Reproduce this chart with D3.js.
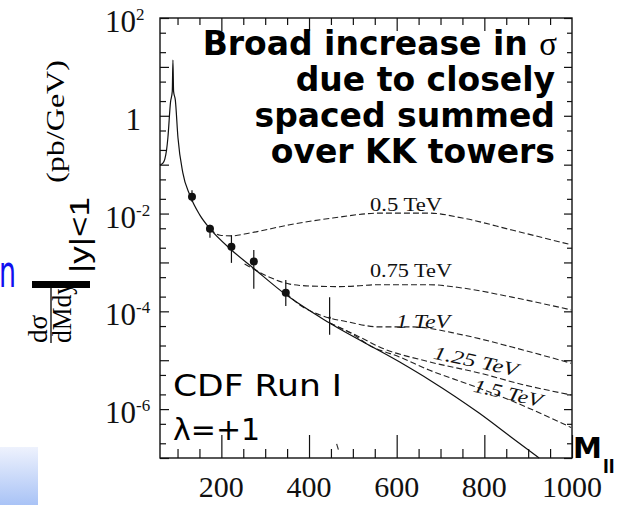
<!DOCTYPE html>
<html><head><meta charset="utf-8">
<script src="https://cdn.jsdelivr.net/npm/d3@7"></script>
<style>html,body{margin:0;padding:0;background:#fff;overflow:hidden}svg{display:block}</style>
</head><body><svg id="c" width="626" height="505"></svg>
<script>
// ---- data ----
const smMass  = [60, 66, 71, 75, 78, 84, 88, 89.5, 91, 95, 101, 112, 128, 151, 174, 223, 272, 347, 447, 606, 674, 788, 863, 925];
const smXsec  = [0.098, 0.106, 0.13, 0.2, 0.355, 1.9, 3.16, 13.8, 3.16, 2.09, 0.355, 0.069, 0.024, 0.0093, 0.0049, 0.0018, 7.8e-4, 2.2e-4, 5.75e-5, 9.3e-6, 4.0e-6, 8.3e-7, 2.6e-7, 1.0e-7];

const kk050Mass = [174, 197, 224, 265, 356, 454, 561, 674, 750, 863, 998];
const kk050Xsec = [0.0049, 0.0036, 0.0035, 0.0040, 0.0059, 0.0081, 0.0102, 0.0102, 0.0081, 0.0046, 0.0023];
const kk075Mass = [253, 310, 356, 401, 470, 561, 674, 750, 863, 998];
const kk075Xsec = [9.3e-4, 5.0e-4, 3.6e-4, 3.3e-4, 3.2e-4, 3.5e-4, 3.5e-4, 3.0e-4, 1.95e-4, 1.07e-4];
const kk100Mass = [347, 379, 424, 492, 561, 636, 750, 863, 998];
const kk100Xsec = [2.4e-4, 1.35e-4, 8.5e-5, 6.0e-5, 4.8e-5, 4.8e-5, 3.3e-5, 1.86e-5, 8.7e-6];
const kk125Mass = [447, 515, 561, 674, 788, 886, 998];
const kk125Xsec = [5.75e-5, 3.0e-5, 1.86e-5, 9.3e-6, 5.5e-6, 3.2e-6, 1.95e-6];
const kk150Mass = [447, 500, 538, 606, 674, 765, 857, 936, 998];
const kk150Xsec = [5.75e-5, 3.4e-5, 2.0e-5, 1.17e-5, 6.3e-6, 3.2e-6, 1.55e-6, 7.6e-7, 4.2e-7];

const curveLabels = ["0.5 TeV", "0.75 TeV", "1 TeV", "1.25 TeV", "1.5 TeV"];

const dataMass = [133, 174, 223, 274, 347, 447];
const dataXsec = [0.022, 0.0049, 0.0021, 0.00105, 2.4e-4, 7.4e-5];
const dataLow  = [0.0174, 0.0032, 9.8e-4, 2.9e-4, 1.29e-4, 3.3e-5];
const dataHigh = [0.030, 0.0059, 0.0036, 0.0018, 4.4e-4, 1.95e-4];
const fragMass = [463, 467];
const fragXsec = [1.95e-7, 1.48e-7];

const xMajorTicks = [200, 400, 600, 800, 1000];
const xMinorTicks = [100, 150, 250, 300, 350, 450, 500, 550, 650, 700, 750, 850, 900, 950];
const yExponents  = [2, 0, -2, -4, -6];
const noteLines   = ["Broad increase in ", "due to closely", "spaced summed", "over KK towers"];

// ---- drawing ----
const svg = d3.select("#c");
const L = 160, R = 572, T = 18, B = 458;
const x = d3.scaleLinear().domain([60, 1000]).range([L, R]);
const y = d3.scaleLog().domain([1e-7, 1e2]).range([B, T]);

// slide decorations
const defs = svg.append("defs");
const grad = defs.append("linearGradient").attr("id", "bg").attr("x1", 0).attr("y1", 0).attr("x2", 0).attr("y2", 1);
grad.append("stop").attr("offset", "0%").attr("stop-color", "#eef2fd");
grad.append("stop").attr("offset", "100%").attr("stop-color", "#a9c3f6");
svg.append("rect").attr("x", 0).attr("y", 447).attr("width", 38).attr("height", 58).attr("fill", "url(#bg)");
svg.append("text").attr("x", -1).attr("y", 287).attr("font-family", "DejaVu Sans").attr("font-size", 44)
  .attr("fill", "#1010f0").attr("textLength", 17).attr("lengthAdjust", "spacingAndGlyphs").text("n");

// y tick values 1,2,5 per decade
const yMajor = d3.range(-7, 3).map(e => Math.pow(10, e));
const yMinor = [];
d3.range(-7, 2).forEach(e => { yMinor.push(2 * Math.pow(10, e)); yMinor.push(5 * Math.pow(10, e)); });

function ax(gen, tr) { const g = svg.append("g").attr("transform", tr).call(gen); g.select(".domain").remove(); g.selectAll("line").attr("stroke", "#111").attr("stroke-width", 1.2); return g; }
ax(d3.axisBottom(x).tickValues(xMinorTicks).tickSize(-9).tickFormat(""), `translate(0,${B})`);
ax(d3.axisBottom(x).tickValues(xMajorTicks).tickSize(-23).tickFormat(""), `translate(0,${B})`);
ax(d3.axisTop(x).tickValues(xMinorTicks).tickSize(-7).tickFormat(""), `translate(0,${T})`);
ax(d3.axisTop(x).tickValues(xMajorTicks.slice(0, 4)).tickSize(-13).tickFormat(""), `translate(0,${T})`);
ax(d3.axisLeft(y).tickValues(yMajor).tickSize(-9).tickFormat(""), `translate(${L},0)`);
ax(d3.axisLeft(y).tickValues(yMinor).tickSize(-6).tickFormat(""), `translate(${L},0)`);
ax(d3.axisRight(y).tickValues(yMajor).tickSize(-8).tickFormat(""), `translate(${R},0)`);
ax(d3.axisRight(y).tickValues(yMinor).tickSize(-5).tickFormat(""), `translate(${R},0)`);

// x labels (serif)
svg.append("g").selectAll("text").data(xMajorTicks).join("text")
  .attr("x", d => x(d)).attr("y", 497).attr("text-anchor", "middle")
  .attr("font-family", "Liberation Serif").attr("font-size", 30).attr("fill", "#111").text(d => d);

// frame
svg.append("rect").attr("x", L).attr("y", T).attr("width", R - L).attr("height", B - T)
  .attr("fill", "none").attr("stroke", "#111").attr("stroke-width", 1.4);

// y labels
const yl = svg.append("g").attr("font-family", "Liberation Serif").attr("fill", "#111");
yExponents.forEach(e => {
  const base = y(Math.pow(10, e)) + 14;
  if (e === 0) {
    yl.append("text").attr("x", 141).attr("y", base).attr("text-anchor", "end").attr("font-size", 31).text("1");
  } else {
    yl.append("text").attr("x", 136).attr("y", base).attr("text-anchor", "end").attr("font-size", 31).text("10");
    yl.append("text").attr("x", 136).attr("y", base - 12).attr("font-size", 17).text(e > 0 ? String(e) : "-" + Math.abs(e));
  }
});

// curves
const line = (ms, vs) => d3.line().x(i => x(ms[i])).y(i => y(vs[i])).curve(d3.curveMonotoneX)(d3.range(ms.length));
const plot = svg.append("g");
const dashed = [[kk050Mass, kk050Xsec], [kk075Mass, kk075Xsec], [kk100Mass, kk100Xsec], [kk125Mass, kk125Xsec], [kk150Mass, kk150Xsec]];
dashed.forEach(([m, v]) => plot.append("path").attr("d", line(m, v)).attr("fill", "none")
  .attr("stroke", "#222").attr("stroke-width", 1.1).attr("stroke-dasharray", "6,3"));
plot.append("path").attr("d", line(smMass, smXsec)).attr("fill", "none").attr("stroke", "#111").attr("stroke-width", 1.2);
plot.append("path").attr("d", line(fragMass, fragXsec)).attr("fill", "none").attr("stroke", "#333").attr("stroke-width", 1.2);

// data points
dataMass.forEach((m, i) => {
  plot.append("line").attr("x1", x(m)).attr("x2", x(m)).attr("y1", y(dataLow[i])).attr("y2", y(dataHigh[i]))
    .attr("stroke", "#111").attr("stroke-width", 1.2);
  plot.append("circle").attr("cx", x(m)).attr("cy", y(dataXsec[i])).attr("r", i === 5 ? 1.2 : 4).attr("fill", "#111");
});

// curve labels
const lab = svg.append("g").attr("font-family", "Liberation Serif").attr("fill", "#111");
lab.append("text").attr("x", 370).attr("y", 211).attr("font-size", 19).attr("textLength", 72).attr("lengthAdjust", "spacingAndGlyphs").text(curveLabels[0]);
lab.append("text").attr("x", 370).attr("y", 277).attr("font-size", 19).attr("textLength", 82).attr("lengthAdjust", "spacingAndGlyphs").text(curveLabels[1]);
lab.append("text").attr("x", 396).attr("y", 328).attr("font-size", 19).attr("font-style", "italic").attr("textLength", 54).attr("lengthAdjust", "spacingAndGlyphs").text(curveLabels[2]);
lab.append("text").attr("transform", "translate(476,361) rotate(12)").attr("text-anchor", "middle").attr("dominant-baseline", "central")
  .attr("font-size", 19).attr("font-style", "italic").attr("textLength", 86).attr("lengthAdjust", "spacingAndGlyphs").text(curveLabels[3]);
lab.append("text").attr("transform", "translate(508,393) rotate(13)").attr("text-anchor", "middle").attr("dominant-baseline", "central")
  .attr("font-size", 19).attr("font-style", "italic").attr("textLength", 70).attr("lengthAdjust", "spacingAndGlyphs").text(curveLabels[4]);

// annotation (bold)
const note = svg.append("g").attr("font-family", "DejaVu Sans").attr("font-weight", "bold").attr("font-size", 33).attr("fill", "#000").attr("text-anchor", "end");
const l1 = note.append("text").attr("x", 557).attr("y", 55);
l1.append("tspan").text(noteLines[0]);
l1.append("tspan").attr("font-family", "Liberation Serif").attr("font-weight", "normal").text("σ");
noteLines.slice(1).forEach((t, i) => note.append("text").attr("x", 555).attr("y", 91 + i * 36).text(t));

// CDF Run I
const cdf = svg.append("g").attr("font-family", "DejaVu Sans").attr("font-size", 30).attr("fill", "#000");
cdf.append("text").attr("x", 173).attr("y", 396).attr("textLength", 169).attr("lengthAdjust", "spacingAndGlyphs").text("CDF Run I");
cdf.append("text").attr("x", 173).attr("y", 440).text("λ=+1");

// M_ll
svg.append("text").attr("x", 573).attr("y", 458).attr("font-family", "DejaVu Sans").attr("font-weight", "bold").attr("font-size", 29).text("M");
svg.append("text").attr("x", 603).attr("y", 473).attr("font-family", "DejaVu Sans").attr("font-weight", "bold").attr("font-size", 17).text("ll");

// y axis title (rotated)
const yt = svg.append("g").attr("transform", "rotate(-90)").attr("fill", "#000");
yt.append("text").attr("x", -343).attr("y", 47).attr("font-family", "Liberation Serif").attr("font-size", 27).text("dσ");
yt.append("line").attr("x1", -343).attr("x2", -282).attr("y1", 51).attr("y2", 51).attr("stroke", "#000").attr("stroke-width", 1.3);
yt.append("text").attr("x", -343).attr("y", 71).attr("font-family", "Liberation Serif").attr("font-size", 27).attr("textLength", 61).attr("lengthAdjust", "spacingAndGlyphs").text("dMdy");
yt.append("rect").attr("x", -288).attr("y", 32).attr("width", 7).attr("height", 58).attr("fill", "#000");
yt.append("text").attr("x", -273).attr("y", 89).attr("font-family", "Liberation Sans").attr("font-size", 27).attr("textLength", 76).attr("lengthAdjust", "spacingAndGlyphs").text("|y|<1");
yt.append("text").attr("x", -183).attr("y", 64).attr("font-family", "Liberation Serif").attr("font-size", 26).attr("textLength", 123).attr("lengthAdjust", "spacingAndGlyphs").text("(pb/GeV)");
</script></body></html>
